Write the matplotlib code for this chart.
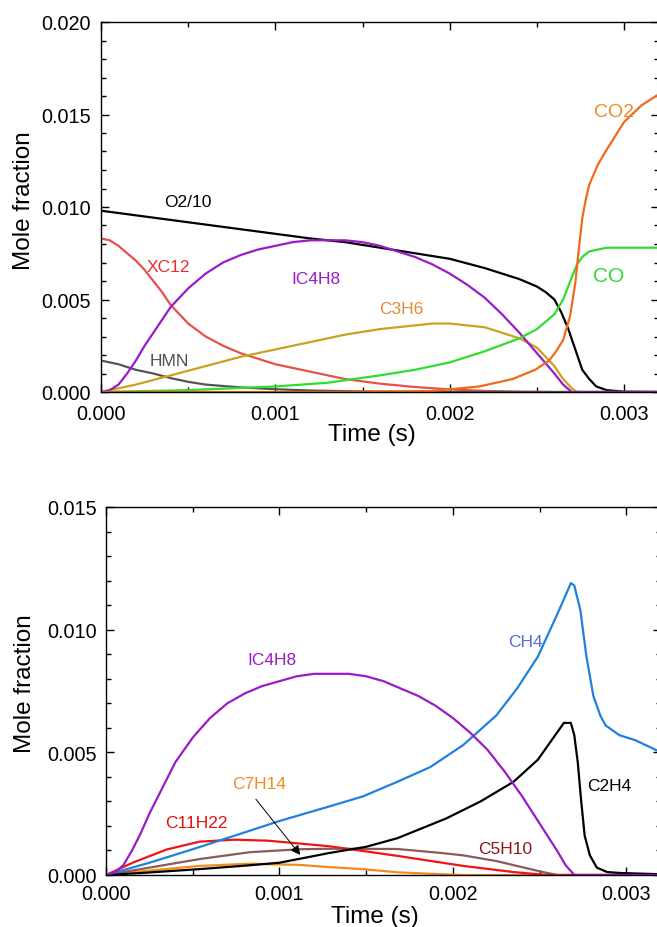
import matplotlib
matplotlib.use("Agg")
import matplotlib.pyplot as plt
from matplotlib.ticker import MultipleLocator, FormatStrFormatter

plt.rcParams['font.family'] = ['Liberation Sans', 'DejaVu Sans']

# ---------------- top panel data ----------------
t_o2 = [0, 0.0002, 0.0004, 0.0006, 0.0008, 0.001, 0.0012, 0.0014, 0.0016, 0.0018, 0.002,
        0.0022, 0.0024, 0.0025, 0.00255, 0.0026, 0.00264, 0.00268, 0.00272, 0.00276, 0.0028,
        0.00284, 0.0029, 0.003, 0.0032]
o2_10 = [0.0098, 0.00955, 0.0093, 0.00905, 0.0088, 0.00855, 0.0083, 0.0081, 0.0078, 0.0075, 0.0072,
         0.0067, 0.0061, 0.0057, 0.0054, 0.0050, 0.0043, 0.0034, 0.0023, 0.0012, 0.0007,
         0.0003, 0.0001, 0.00002, 0.0]

t_xc12 = [0, 0.00005, 0.0001, 0.00015, 0.0002, 0.00025, 0.0003, 0.00035, 0.0004, 0.00045, 0.0005,
          0.0006, 0.0007, 0.0008, 0.0009, 0.001, 0.0011, 0.0012, 0.0013, 0.0014, 0.0016, 0.0018,
          0.002, 0.0022, 0.0024, 0.0026, 0.0032]
xc12 = [0.0083, 0.0082, 0.0079, 0.0075, 0.0071, 0.0066, 0.0060, 0.0054, 0.0047, 0.0042, 0.0037,
        0.0030, 0.0025, 0.0021, 0.0018, 0.0015, 0.0013, 0.0011, 0.0009, 0.0007, 0.00045, 0.00027,
        0.00014, 0.00006, 0.00002, 0.0, 0.0]

t_ic4h8 = [0, 0.00005, 0.0001, 0.00015, 0.0002, 0.00025, 0.0003, 0.00035, 0.0004, 0.00045, 0.0005,
           0.0006, 0.0007, 0.0008, 0.0009, 0.001, 0.0011, 0.0012, 0.0013, 0.0014, 0.0015, 0.0016,
           0.0017, 0.0018, 0.0019, 0.002, 0.0021, 0.0022, 0.0023, 0.0024, 0.0025, 0.0026, 0.00265,
           0.0027, 0.0032]
ic4h8 = [0, 0.0001, 0.0004, 0.001, 0.0017, 0.0025, 0.0032, 0.0039, 0.0046, 0.0051, 0.0056,
         0.0064, 0.0070, 0.0074, 0.0077, 0.0079, 0.0081, 0.0082, 0.0082, 0.0082, 0.0081, 0.0079,
         0.0076, 0.0073, 0.0069, 0.0064, 0.0058, 0.0051, 0.0042, 0.0032, 0.0021, 0.0010, 0.0004,
         0.0, 0.0]

t_c3h6 = [0, 0.0002, 0.0004, 0.0006, 0.0008, 0.001, 0.0012, 0.0014, 0.0016, 0.0018, 0.0019,
          0.002, 0.0021, 0.0022, 0.0023, 0.0024, 0.0025, 0.00255, 0.0026, 0.00265, 0.0027, 0.00273, 0.0032]
c3h6 = [0, 0.0004, 0.0009, 0.0014, 0.0019, 0.0023, 0.0027, 0.0031, 0.0034, 0.0036, 0.0037,
        0.0037, 0.0036, 0.0035, 0.0032, 0.0029, 0.0024, 0.0019, 0.0014, 0.0007, 0.0002, 0.0, 0.0]

t_co = [0, 0.0005, 0.001, 0.0013, 0.0016, 0.0018, 0.002, 0.0022, 0.0024, 0.0025, 0.0026,
        0.00265, 0.0027, 0.00273, 0.00276, 0.0028, 0.00285, 0.0029, 0.003, 0.0032]
co = [0, 0.0001, 0.0003, 0.0005, 0.0009, 0.0012, 0.0016, 0.0022, 0.0029, 0.0034, 0.0042,
      0.0050, 0.0062, 0.0069, 0.0073, 0.0076, 0.0077, 0.0078, 0.0078, 0.0078]

t_co2 = [0, 0.0013, 0.0019, 0.00217, 0.00236, 0.00249, 0.00257, 0.00261, 0.00265, 0.00269,
         0.00272, 0.00274, 0.00276, 0.00278, 0.0028, 0.00285, 0.0029, 0.003, 0.0031, 0.0032]
co2 = [0, 0.0, 0.00005, 0.0003, 0.0007, 0.0012, 0.0017, 0.0022, 0.0028, 0.0041,
       0.0059, 0.0077, 0.0094, 0.0104, 0.0112, 0.0123, 0.0131, 0.0146, 0.0155, 0.0161]

t_hmn = [0, 0.0001, 0.0002, 0.0003, 0.0004, 0.0005, 0.0006, 0.0008, 0.001, 0.0012, 0.0015, 0.002, 0.0032]
hmn = [0.0017, 0.0015, 0.0012, 0.0010, 0.00075, 0.00055, 0.0004, 0.00025, 0.00015, 0.00008, 0.00003, 0.0, 0.0]

# ---------------- bottom panel data ----------------
t_ch4 = [0, 0.00025, 0.0005, 0.00074, 0.001, 0.00129, 0.00148, 0.00168, 0.00187, 0.00206, 0.00225,
         0.00237, 0.00249, 0.0026, 0.00265, 0.00268, 0.0027, 0.002735, 0.00277, 0.00281, 0.00285,
         0.00288, 0.00296, 0.00305, 0.0032]
ch4 = [0, 0.0005, 0.00105, 0.0016, 0.0022, 0.0028, 0.0032, 0.0038, 0.0044, 0.0053, 0.0065,
       0.0076, 0.0089, 0.0106, 0.0114, 0.0119, 0.0118, 0.0108, 0.0089, 0.0073, 0.0065,
       0.0061, 0.0057, 0.0055, 0.0050]

t_c2h4 = [0, 0.0002, 0.00054, 0.0008, 0.001, 0.00129, 0.0015, 0.00168, 0.00196, 0.00216, 0.00235,
          0.00249, 0.0026, 0.00264, 0.00268, 0.0027, 0.00272, 0.00274, 0.00276, 0.00279, 0.00283,
          0.00289, 0.00297, 0.0032]
c2h4 = [0, 0.00008, 0.00024, 0.00038, 0.0005, 0.0009, 0.00115, 0.0015, 0.0023, 0.0030, 0.0038,
        0.0047, 0.0058, 0.0062, 0.0062, 0.0057, 0.0046, 0.0030, 0.0016, 0.0008, 0.0003,
        0.00012, 0.00008, 0.00003]

t_c11h22 = [0, 0.00016, 0.00035, 0.00054, 0.00074, 0.00093, 0.00112, 0.00129, 0.00168, 0.00206,
            0.00235, 0.00254, 0.0032]
c11h22 = [0, 0.00052, 0.00104, 0.00136, 0.00144, 0.0014, 0.00128, 0.00117, 0.00078, 0.00037,
          0.00012, 0.0, 0.0]

t_c5h10 = [0, 0.00025, 0.00054, 0.00083, 0.00112, 0.00129, 0.00168, 0.00193, 0.00206, 0.00225,
           0.0025, 0.0026, 0.0032]
c5h10 = [0, 0.0003, 0.00065, 0.00093, 0.00105, 0.00107, 0.00106, 0.0009, 0.0008, 0.00057,
         0.00015, 0.0, 0.0]

t_c7h14 = [0, 0.00025, 0.00054, 0.00083, 0.00112, 0.00129, 0.00148, 0.00168, 0.00187, 0.00206, 0.0032]
c7h14 = [0, 0.00018, 0.00037, 0.00046, 0.00041, 0.00032, 0.00024, 0.00011, 0.00005, 0.0, 0.0]

# ---------------- figure ----------------
fig = plt.figure(figsize=(6.57, 9.28), dpi=100)
ax1 = fig.add_axes([101/657, 1-393/928, 558/657, 370/928])
ax2 = fig.add_axes([106/657, 1-876/928, 555/657, 368/928])

lw = 1.6
ax1.plot(t_o2, o2_10, color='black', lw=lw)
ax1.plot(t_xc12, xc12, color='#E8504A', lw=lw)
ax1.plot(t_hmn, hmn, color='#555555', lw=lw)
ax1.plot(t_c3h6, c3h6, color='#C9A21E', lw=lw)
ax1.plot(t_ic4h8, ic4h8, color='#9A1BC8', lw=lw)
ax1.plot(t_co, co, color='#2EDD2E', lw=lw)
ax1.plot(t_co2, co2, color='#F06A1A', lw=lw)

fs = 12.5
ax1.text(0.000499, 0.01032, 'O2/10', color='black', fontsize=fs, ha='center', va='center')
ax1.text(0.000384, 0.00676, 'XC12', color='#E03030', fontsize=fs, ha='center', va='center')
ax1.text(0.00123, 0.00611, 'IC4H8', color='#9A1BC8', fontsize=fs, ha='center', va='center')
ax1.text(0.00172, 0.00449, 'C3H6', color='#E08A3A', fontsize=fs, ha='center', va='center')
ax1.text(0.000390, 0.00168, 'HMN', color='#505050', fontsize=fs, ha='center', va='center')
ax1.text(0.00294, 0.01514, 'CO2', color='#F08A2A', fontsize=14, ha='center', va='center')
ax1.text(0.00291, 0.00632, 'CO', color='#2EDD2E', fontsize=15, ha='center', va='center')

ax2.plot(t_c7h14, c7h14, color='#F28C1E', lw=lw)
ax2.plot(t_c5h10, c5h10, color='#8B5A5A', lw=lw)
ax2.plot(t_c11h22, c11h22, color='#EE1515', lw=lw)
ax2.plot(t_c2h4, c2h4, color='black', lw=lw)
ax2.plot(t_ch4, ch4, color='#2080E0', lw=lw)
ax2.plot(t_ic4h8, ic4h8, color='#9A1BC8', lw=lw)

ax2.text(0.000958, 0.0088, 'IC4H8', color='#9A1BC8', fontsize=fs, ha='center', va='center')
ax2.text(0.000883, 0.00371, 'C7H14', color='#F28C1E', fontsize=fs, ha='center', va='center')
ax2.text(0.000519, 0.00216, 'C11H22', color='#E01010', fontsize=fs, ha='center', va='center')
ax2.text(0.00242, 0.0095, 'CH4', color='#5A6ADB', fontsize=fs, ha='center', va='center')
ax2.text(0.0029, 0.00363, 'C2H4', color='black', fontsize=fs, ha='center', va='center')
ax2.text(0.0023, 0.00106, 'C5H10', color='#8B1A1A', fontsize=fs, ha='center', va='center')
ax2.annotate('', xy=(0.00113, 0.00073), xytext=(0.000854, 0.00318),
             arrowprops=dict(arrowstyle='-|>', color='black', lw=0.7, mutation_scale=14))

for ax, ymax in ((ax1, 0.020), (ax2, 0.015)):
    ax.set_xlim(0, 0.0032)
    ax.set_ylim(0, ymax)
    ax.xaxis.set_major_locator(MultipleLocator(0.001))
    ax.xaxis.set_minor_locator(MultipleLocator(0.0005))
    ax.yaxis.set_major_locator(MultipleLocator(0.005))
    ax.yaxis.set_minor_locator(MultipleLocator(0.001))
    ax.xaxis.set_major_formatter(FormatStrFormatter('%.3f'))
    ax.yaxis.set_major_formatter(FormatStrFormatter('%.3f'))
    ax.tick_params(which='both', direction='in', top=True, right=True, labelsize=14.3, width=1.0)
    ax.tick_params(which='major', length=6)
    ax.tick_params(which='minor', length=3.5)
    for s in ax.spines.values():
        s.set_linewidth(1.0)
    ax.set_ylabel('Mole fraction', fontsize=17.5)
    ax.set_xlabel('Time (s)', fontsize=17.5)

ax1.tick_params(axis='x', which='major', pad=8.5)
ax1.tick_params(axis='y', which='major', pad=7.3)
ax2.tick_params(axis='x', which='major', pad=6.5)
ax2.tick_params(axis='y', which='major', pad=6.8)

ax1.yaxis.set_label_coords(-0.118, 0.52)
ax1.xaxis.set_label_coords(0.486, -0.084)
ax2.yaxis.set_label_coords(-0.127, 0.524)
ax2.xaxis.set_label_coords(0.485, -0.0815)

fig.savefig('out.png', dpi=100)
